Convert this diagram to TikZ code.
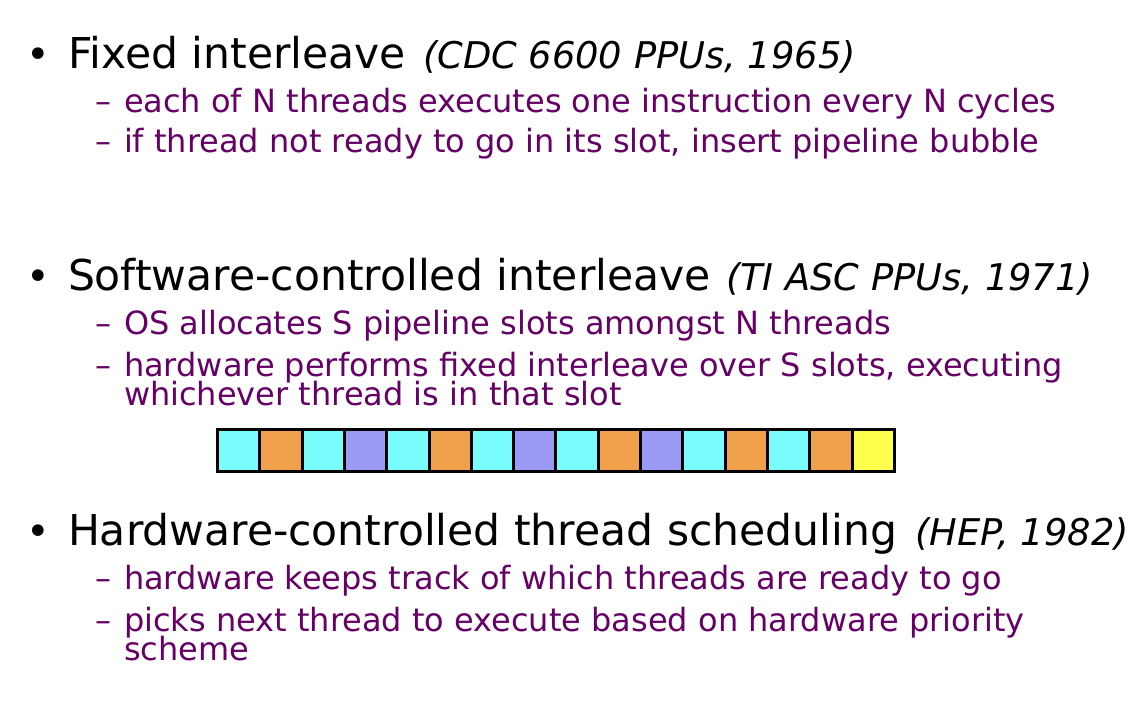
\documentclass[tikz,border=0pt]{standalone}
\usepackage{fontspec}
\setmainfont{DejaVu Sans}
\usetikzlibrary{positioning}
\definecolor{Plum}{RGB}{102,0,102}
\definecolor{SlotC}{RGB}{120,252,252}
\definecolor{SlotO}{RGB}{240,160,75}
\definecolor{SlotP}{RGB}{155,155,245}
\definecolor{SlotY}{RGB}{255,255,77}

\begin{document}
\begin{tikzpicture}[x=1pt, y=-1pt,
		every node/.style={inner sep=0pt, outer sep=0pt, anchor=base west},
		head/.style={font=\fontsize{42.5}{42.5}\selectfont},
		note/.style={font=\fontsize{36.8}{36.8}\selectfont\itshape},
		sub/.style={font=\fontsize{32}{32}\selectfont, text=Plum},
		dot/.style={font=\fontsize{40}{40}\selectfont},
		slot/.style={draw=black, line width=3pt}
		]
		\useasboundingbox (0,0) rectangle (1144,712);

		% first point
		\node[dot] (B1) at (26,68) {•};
		\node[head] (H1) at (68,68) {Fixed interleave};
		\node[note] (N1) at (423,68) {(CDC 6600 PPUs, 1965)};
		\node[sub] (D1a) at (95,112) {–};
		\node[sub] (S1a) at (124,112) {each of N threads executes one instruction every N cycles};
		\node[sub] (D1b) at (95,152) {–};
		\node[sub] (S1b) at (124,152) {if thread not ready to go in its slot, insert pipeline bubble};

		% second point
		\node[dot] (B2) at (26,290) {•};
		\node[head] (H2) at (68,290) {Software-controlled interleave};
		\node[note] (N2) at (726,290) {(TI ASC PPUs, 1971)};
		\node[sub] (D2a) at (95,334) {–};
		\node[sub] (S2a) at (124,334) {OS allocates S pipeline slots amongst N threads};
		\node[sub] (D2b) at (95,376) {–};
		\node[sub] (S2b) at (124,376) {hardware performs fixed interleave over S slots, executing};
		\node[sub] (S2c) at (124,405) {whichever thread is in that slot};

		% slots
		\foreach \c [count=\i from 0] in {SlotC,SlotO,SlotC,SlotP,SlotC,SlotO,SlotC,SlotP,SlotC,SlotO,SlotP,SlotC,SlotO,SlotC,SlotO,SlotY}
			\draw[slot, fill=\c] (217.5+42.3*\i,429.5) rectangle ++(42.3,41.5);

		% third point
		\node[dot] (B3) at (26,545) {•};
		\node[head] (H3) at (68,545) {Hardware-controlled thread scheduling};
		\node[note] (N3) at (915,545) {(HEP, 1982)};
		\node[sub] (D3a) at (95,589) {–};
		\node[sub] (S3a) at (124,589) {hardware keeps track of which threads are ready to go};
		\node[sub] (D3b) at (95,631) {–};
		\node[sub] (S3b) at (124,631) {picks next thread to execute based on hardware priority};
		\node[sub] (S3c) at (124,660) {scheme};
	\end{tikzpicture}
\end{document}
